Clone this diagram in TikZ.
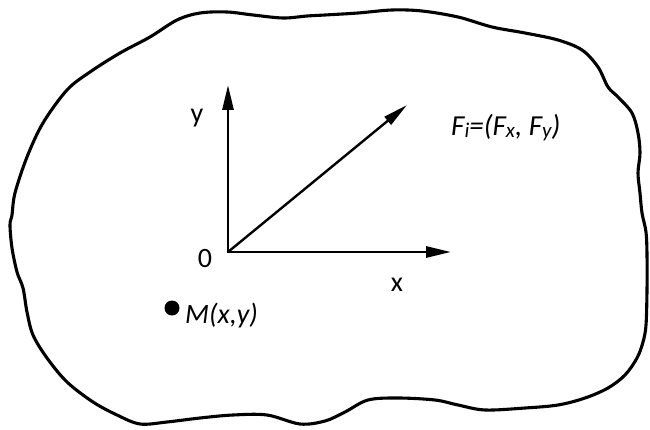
\documentclass[tikz,border=0pt]{standalone}
\usepackage{fontspec}
\setmainfont{Carlito}
\usetikzlibrary{arrows.meta}
\newcommand{\mysub}[1]{{\fontsize{21}{21}\selectfont\raisebox{-1.5pt}{#1}}}
\begin{document}
\begin{tikzpicture}[x=1pt,y=-1pt,
  blob/.style={line width=3.1pt, line join=round},
  axis/.style={line width=2.9pt},
  force/.style={line width=2.4pt, -{Triangle[length=25pt,width=10pt]}},
  lbl/.style={font=\fontsize{28}{32}\selectfont, inner sep=0pt, anchor=base},
  ilbl/.style={font=\fontsize{28}{32}\selectfont\itshape, inner sep=0pt, anchor=base west},
  pt/.style={circle, fill=black, inner sep=0pt, minimum size=15pt}]
\useasboundingbox (0,0) rectangle (650,430);
% body outline
\draw[blob] plot[smooth cycle, tension=0.55] coordinates {
 (12,215) (15,193) (27,157) (43,123) (67,90) (90,72) (120,53) (150,37)
 (177,20) (200,13) (227,12) (253,15) (283,18) (307,16) (325,15) (358,13)
 (392,10) (422,11) (458,17) (492,27) (525,33) (558,40) (582,50) (598,67)
 (608,87) (618,97) (632,113) (638,133) (640,153) (638,173) (640,193)
 (642,213) (646,232) (647,255) (647,290) (646,325) (643,342) (637,358)
 (625,375) (608,388) (585,398) (558,405) (525,408) (485,410) (458,405)
 (435,400) (398,398) (368,400) (345,412) (325,421) (300,424) (267,415)
 (233,415) (200,418) (167,422) (140,424) (117,415) (93,402) (67,382)
 (47,358) (33,335) (27,312) (23,288) (17,272) (12,248) (10,225)};
% axes
\coordinate (O) at (228,252);
\coordinate (Ytip) at (228,85);
\coordinate (Xtip) at (451,252);
\coordinate (Ftip) at (407,105);
\draw[axis, {Triangle[length=25pt,width=11pt]}-{Triangle[length=25pt,width=11pt]}, line join=miter] (Ytip) -- (O) -- (Xtip);
\draw[force] (O) -- (Ftip);
% labels
\node[lbl] (ylab) at (197,123) {y};
\node[lbl] (olab) at (205,267) {0};
\node[lbl] (xlab) at (397,291) {x};
\node[pt] (M) at (172,308) {};
\node[ilbl] (mlab) at (185,323) {M(x,y)};
\node[ilbl, font=\fontsize{29}{32}\selectfont\itshape] (flab) at (451,136) {F\mysub{i}=(F\mysub{x}, F\mysub{y})};
\end{tikzpicture}
\end{document}
